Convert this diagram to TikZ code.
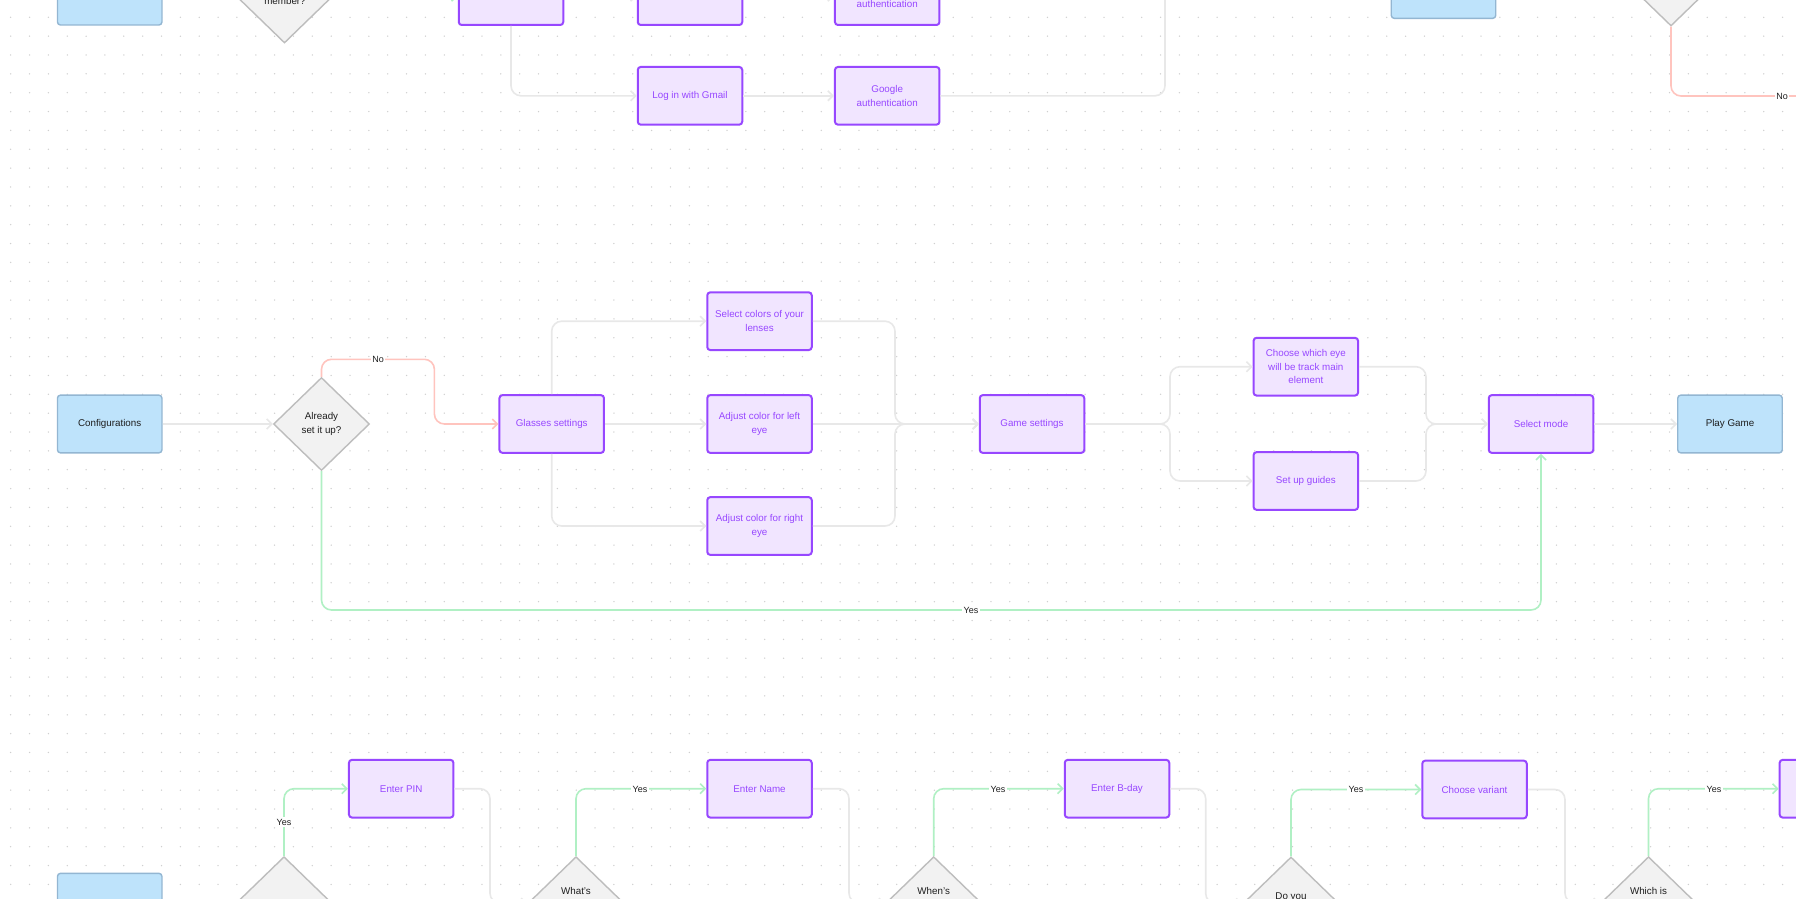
\documentclass[tikz,border=0pt]{standalone}
\usepackage{fontspec}
\setmainfont{Liberation Sans}
\usetikzlibrary{shapes.geometric,arrows.meta}

\definecolor{dotc}{HTML}{CFCFCF}
\definecolor{linec}{HTML}{E8E8E8}
\definecolor{noc}{HTML}{FFC4BE}
\definecolor{yesc}{HTML}{B0F0C4}
\definecolor{pfill}{HTML}{F1E5FF}
\definecolor{pdraw}{HTML}{9747FF}
\definecolor{bfill}{HTML}{BEE3FB}
\definecolor{bdraw}{HTML}{93B6D2}
\definecolor{dfill}{HTML}{F2F2F2}
\definecolor{ddraw}{HTML}{BDBDBD}
\definecolor{ink}{HTML}{1E1E1E}

\begin{document}
\begin{tikzpicture}[x=1pt,y=-1pt,
  font=\fontsize{9.8}{13.7}\selectfont,
  box/.style={rectangle, rounded corners=3pt, minimum width=104.5pt, minimum height=57.7pt,
              align=center, inner sep=2pt},
  task/.style={box, fill=pfill, draw=pdraw, text=pdraw, line width=2pt},
  term/.style={box, fill=bfill, draw=bdraw, text=ink, line width=1.4pt},
  ask/.style={diamond, minimum width=96pt, minimum height=93pt, inner sep=0pt,
              fill=dfill, draw=ddraw, line width=1.4pt, align=center, text=ink},
  txt/.style={text=ink, align=center, inner sep=0pt},
  conn/.style={draw=linec, line width=1.6pt, rounded corners=10pt},
  flow/.style={conn, -{Straight Barb[length=5pt,width=10pt]}},
  nolink/.style={flow, draw=noc},
  yeslink/.style={flow, draw=yesc},
  tag/.style={fill=white, text=ink, inner sep=1.5pt, font=\fontsize{9}{10}\selectfont},
  dotrow/.style={draw=dotc, line width=1.5pt, line cap=round, dash pattern=on 0pt off 18.85pt},
]
\useasboundingbox (0,0) rectangle (1796,899);
\clip (0,0) rectangle (1796,899);
\fill[white] (0,0) rectangle (1796,899);

% dotted canvas, one dashed row per grid line
\foreach \j in {0,...,47} {
  \draw[dotrow] (10.7,{17.3+18.85*\j}) -- (1800,{17.3+18.85*\j});
}

% ---------- top row ----------
\node[term] (tb1) at (109.7,-3.85) {};
\node[ask]  (tq1) at (284.5,-3.5) {};
\node[txt]  (tq1t) at (285,1) {member?};
\node[task] (tp1) at (511,-3.85) {};
\node[task] (tp2) at (690,-3.85) {};
\node[task] (tp3) at (887.2,-3.85) {};
\node[txt, text=pdraw] (tp3t) at (887.2,3.5) {authentication};
\node[task] (gm) at (690,95.8) {Log in with Gmail};
\node[task] (ga) at (887.2,95.8) {Google\\authentication};
\node[term] (tb2) at (1443.5,-10.5) {};
\node[ask]  (tq2) at (1671,-20.5) {};

\coordinate (t1) at (1165,-40);
\coordinate (t2) at (1830,96);
\draw[yeslink] (tq1.east) -- (tp1.west);
\draw[flow] (tp1.east) -- (tp2.west);
\draw[flow] (tp2.east) -- (tp3.west);
\draw[flow] (tp1.south) |- (gm.west);
\draw[flow] (gm) -- (ga);
\draw[conn] (ga.east) -| (t1);
\draw[conn, draw=noc] (tq2.south) |- (t2);
\node[tag] (tn) at (1782,96) {No};

% ---------- configuration flow ----------
\node[term] (cfg) at (109.7,424) {Configurations};
\node[ask]  (q1)  at (321.5,424) {Already\\set it up?};
\node[task] (gls) at (551.7,424) {Glasses settings};
\node[task] (sc)  at (759.5,321.2) {Select colors of your\\lenses};
\node[task] (al)  at (759.5,424) {Adjust color for left\\eye};
\node[task] (ar)  at (759.5,526) {Adjust color for right\\eye};
\node[task] (gs)  at (1032,424) {Game settings};
\node[task] (ch)  at (1305.8,366.7) {Choose which eye\\will be track main\\element};
\node[task] (sg)  at (1305.8,481) {Set up guides};
\node[task] (sm)  at (1541,424) {Select mode};
\node[term] (pg)  at (1730,424) {Play Game};

\coordinate (n1) at (434.4,359.3);
\coordinate (y1) at (321.5,610);
\coordinate (m1) at (895,424);
\coordinate (s2) at (1170,424);
\coordinate (m2) at (1426,424);

\draw[flow] (cfg) -- (q1);
\draw[nolink] (q1.north) |- (n1) |- (gls.west);
\node[tag] (nol) at (378,359.3) {No};
\draw[flow] (gls.north) |- (sc.west);
\draw[flow] (gls.east) -- (al.west);
\draw[flow] (gls.south) |- (ar.west);
\draw[flow] (sc.east) -| (m1) -- (gs.west);
\draw[flow] (al.east) -- (gs.west);
\draw[flow] (ar.east) -| (m1) -- (gs.west);
\draw[flow] (gs.east) -- (s2) |- (ch.west);
\draw[flow] (gs.east) -- (s2) |- (sg.west);
\draw[flow] (ch.east) -| (m2) -- (sm.west);
\draw[flow] (sg.east) -| (m2) -- (sm.west);
\draw[flow] (sm) -- (pg);
\draw[yeslink] (q1.south) -- (y1) -| (sm.south);
\node[tag] (yl) at (971,610) {Yes};

% ---------- bottom row ----------
\node[term] (bb1) at (109.7,902.2) {};
\node[ask]  (d1) at (284,903.2) {};
\node[task] (pin) at (401.2,788.7) {Enter PIN};
\node[ask]  (d2) at (576,903.2) {};
\node[txt]  (d2t) at (576,891) {What's};
\node[task] (nm) at (759.5,788.7) {Enter Name};
\node[ask]  (d3) at (933.7,903.2) {};
\node[txt]  (d3t) at (933.7,891) {When's};
\node[task] (bd) at (1117,788.7) {Enter B-day};
\node[ask]  (d4) at (1291,903.5) {};
\node[txt]  (d4t) at (1291,897) {Do you};
\node[task] (cv) at (1474.5,789.5) {Choose variant};
\node[ask]  (d5) at (1648.5,903.2) {};
\node[txt]  (d5t) at (1648.5,891) {Which is};
\node[task] (b6) at (1831.9,788.7) {};

\coordinate (c1) at (490,903.2);
\coordinate (c2) at (849,903.2);
\coordinate (c3) at (1205.7,903.5);
\coordinate (c4) at (1565,903.2);

\draw[yeslink] (d1.north) |- (pin.west);
\node[tag] (ya) at (284,822) {Yes};
\draw[flow] (pin.east) -| (c1) -- (d2.west);
\draw[yeslink] (d2.north) |- (nm.west);
\node[tag] (yb) at (640,789) {Yes};
\draw[flow] (nm.east) -| (c2) -- (d3.west);
\draw[yeslink] (d3.north) |- (bd.west);
\node[tag] (yc) at (998,789) {Yes};
\draw[flow] (bd.east) -| (c3) -- (d4.west);
\draw[yeslink] (d4.north) |- (cv.west);
\node[tag] (yd) at (1356,789.5) {Yes};
\draw[flow] (cv.east) -| (c4) -- (d5.west);
\draw[yeslink] (d5.north) |- (b6.west);
\node[tag] (ye) at (1714,789) {Yes};
\end{tikzpicture}
\end{document}
